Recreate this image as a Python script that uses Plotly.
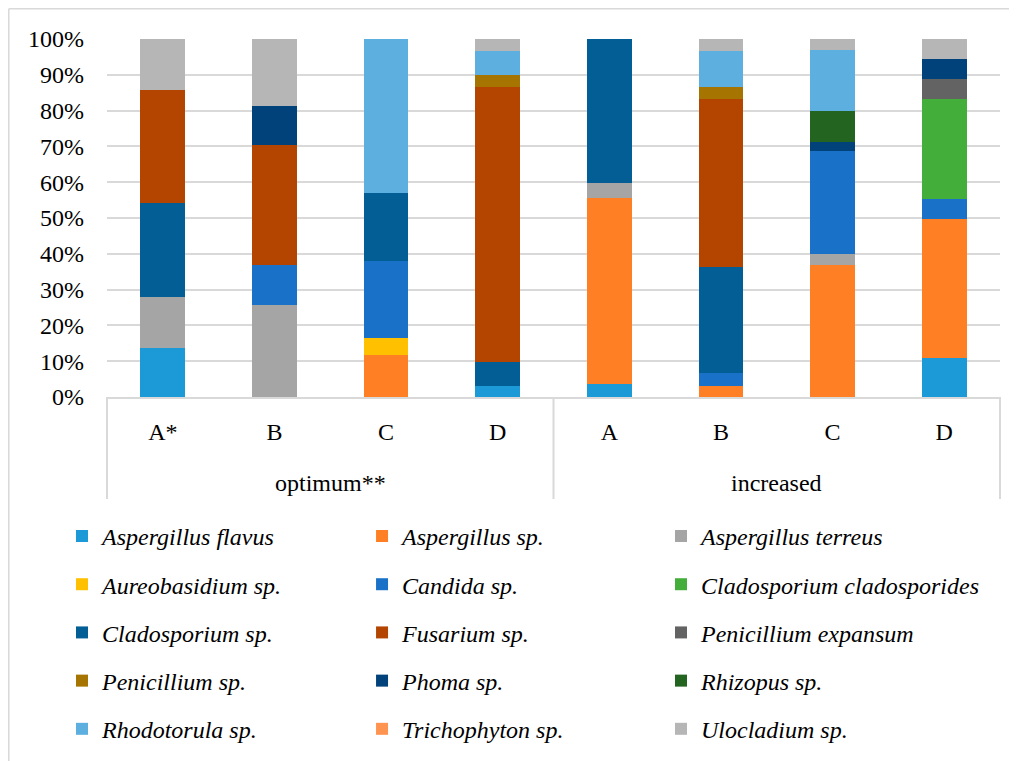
import plotly.graph_objects as go

group_names = ["optimum**", "increased"]
samples = ["A*", "B", "C", "D", "A", "B", "C", "D"]
# unique category keys (zero-width space keeps the repeated letters distinct)
sample_keys = ["A*", "B", "C", "D", "A", "B\u200b", "C\u200b", "D\u200b"]

species = [
    "Aspergillus flavus", "Aspergillus sp.", "Aspergillus terreus",
    "Aureobasidium sp.", "Candida sp.", "Cladosporium cladosporides",
    "Cladosporium sp.", "Fusarium sp.", "Penicillium expansum",
    "Penicillium sp.", "Phoma sp.", "Rhizopus sp.",
    "Rhodotorula sp.", "Trichophyton sp.", "Ulocladium sp.",
]

colors = [
    "#1B9AD7", "#FE7F24", "#A5A5A5",
    "#FFC000", "#1971C8", "#44AE3B",
    "#025E94", "#B44500", "#636363",
    "#A67400", "#02427B", "#246421",
    "#5DAFE0", "#FF9450", "#B6B6B6",
]

# percentage of each species per sample (order of samples above)
aspergillus_flavus = [13.7, 0, 0, 3.2, 3.7, 0, 0, 10.9]
aspergillus_sp = [0, 0, 11.6, 0, 52.0, 3.1, 36.9, 38.9]
aspergillus_terreus = [14.3, 25.8, 0, 0, 4.1, 0, 3.0, 0]
aureobasidium_sp = [0, 0, 4.9, 0, 0, 0, 0, 0]
candida_sp = [0, 11.1, 21.4, 0, 0, 3.5, 28.8, 5.5]
cladosporium_cladosporides = [0, 0, 0, 0, 0, 0, 0, 27.9]
cladosporium_sp = [26.2, 0, 19.1, 6.6, 40.2, 29.8, 0, 0]
fusarium_sp = [31.5, 33.5, 0, 76.9, 0, 46.8, 0, 0]
penicillium_expansum = [0, 0, 0, 0, 0, 0, 0, 5.6]
penicillium_sp = [0, 0, 0, 3.2, 0, 3.4, 0, 0]
phoma_sp = [0, 10.9, 0, 0, 0, 0, 2.6, 5.6]
rhizopus_sp = [0, 0, 0, 0, 0, 0, 8.7, 0]
rhodotorula_sp = [0, 0, 43.0, 6.7, 0, 10.0, 17.0, 0]
trichophyton_sp = [0, 0, 0, 0, 0, 0, 0, 0]
ulocladium_sp = [14.3, 18.7, 0, 3.4, 0, 3.4, 3.0, 5.6]

values = [
    aspergillus_flavus, aspergillus_sp, aspergillus_terreus,
    aureobasidium_sp, candida_sp, cladosporium_cladosporides,
    cladosporium_sp, fusarium_sp, penicillium_expansum,
    penicillium_sp, phoma_sp, rhizopus_sp,
    rhodotorula_sp, trichophyton_sp, ulocladium_sp,
]

y_ticks = list(range(0, 101, 10))
y_labels = [f"{v}%" for v in y_ticks]

FONT = "Liberation Serif"
FS = 24
GRID = "#D9D9D9"

legend_ids = ["legend", "legend2", "legend3"]

fig = go.Figure()
for i, (name, col, vals) in enumerate(zip(species, colors, values)):
    fig.add_trace(go.Bar(
        x=sample_keys,
        y=vals,
        name=f"<i>{name}</i>",
        legendgroup=name,
        legend=legend_ids[i % 3],
        marker=dict(color=col, line=dict(width=0)),
    ))

leg_common = dict(
    orientation="v",
    yanchor="top",
    xanchor="left",
    tracegroupgap=14,
    font=dict(family=FONT, size=FS, color="#000000"),
    bgcolor="rgba(0,0,0,0)",
)
leg_y = -0.3266

fig.update_layout(
    width=1017, height=761,
    barmode="stack",
    bargap=0.6,
    paper_bgcolor="white",
    plot_bgcolor="white",
    margin=dict(l=99, r=25, t=31, b=372, autoexpand=False),
    font=dict(family=FONT, size=FS, color="#000000"),
    showlegend=True,
    legend=dict(x=-0.0504, y=leg_y, **leg_common),
    legend2=dict(x=0.2856, y=leg_y, **leg_common),
    legend3=dict(x=0.6204, y=leg_y, **leg_common),
    xaxis=dict(
        type="category",
        categoryorder="array", categoryarray=sample_keys,
        tickvals=sample_keys, ticktext=samples,
        showline=True, linecolor=GRID, linewidth=2,
        ticks="", ticklabelstandoff=12,
        tickfont=dict(family=FONT, size=FS),
        showgrid=False,
    ),
    yaxis=dict(
        range=[0, 100],
        tickvals=y_ticks, ticktext=y_labels,
        showgrid=True, gridcolor=GRID, gridwidth=1.5,
        zeroline=False, showline=False, ticks="",
        tickfont=dict(family=FONT, size=FS),
        ticklabelstandoff=22,
    ),
    annotations=[
        dict(text=group_names[0], xref="paper", yref="paper",
             x=0.25, y=-0.240, xanchor="center", yanchor="middle",
             showarrow=False, font=dict(family=FONT, size=FS)),
        dict(text=group_names[1], xref="paper", yref="paper",
             x=0.75, y=-0.240, xanchor="center", yanchor="middle",
             showarrow=False, font=dict(family=FONT, size=FS)),
    ],
    shapes=[
        # group dividers below the category axis
        dict(type="line", xref="paper", yref="paper",
             x0=0, x1=0, y0=0, y1=-0.285, line=dict(color=GRID, width=2)),
        dict(type="line", xref="paper", yref="paper",
             x0=0.5, x1=0.5, y0=0, y1=-0.285, line=dict(color=GRID, width=2)),
        dict(type="line", xref="paper", yref="paper",
             x0=1, x1=1, y0=0, y1=-0.285, line=dict(color=GRID, width=2)),
        # chart frame (top and left edges visible)
        dict(type="line", xref="paper", yref="paper",
             x0=-0.1100, x1=1.1, y0=1.0845, y1=1.0845,
             line=dict(color=GRID, width=1.5)),
        dict(type="line", xref="paper", yref="paper",
             x0=-0.1100, x1=-0.1100, y0=1.0845, y1=-1.05,
             line=dict(color=GRID, width=1.5)),
    ],
)

fig.write_html("out.html")
